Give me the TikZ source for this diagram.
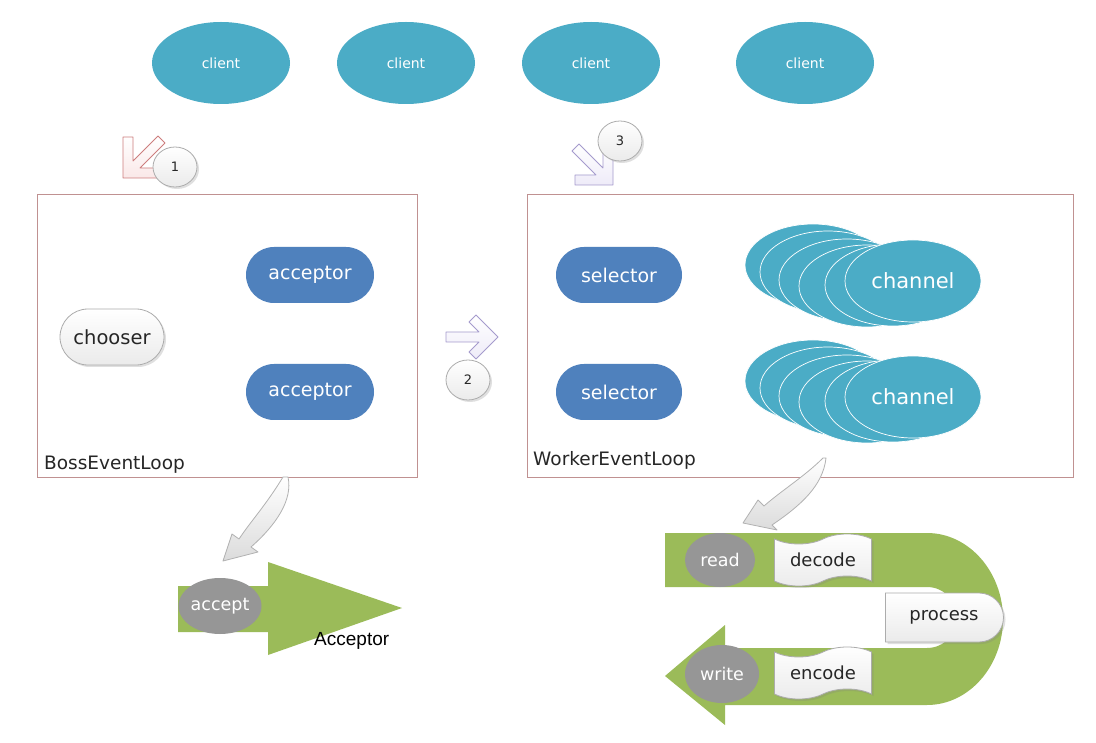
\documentclass[tikz,border=0pt]{standalone}
\usepackage{fontspec}
\setmainfont{DejaVu Sans}
\newfontfamily\helv{Liberation Sans}
\usepackage{tikz}
\usetikzlibrary{shapes.geometric}
\usetikzlibrary{shapes.misc}
\usetikzlibrary{shapes.symbols}
\usetikzlibrary{shadows}

\definecolor{aqua}{RGB}{75,172,198}
\definecolor{steel}{RGB}{79,129,189}
\definecolor{leaf}{RGB}{155,187,89}
\definecolor{loopline}{RGB}{192,145,145}
\definecolor{pinkline}{RGB}{205,125,125}
\definecolor{pinkfill}{RGB}{250,232,232}
\definecolor{lilacline}{RGB}{165,155,205}
\definecolor{lilacfill}{RGB}{238,235,248}
\definecolor{greyell}{RGB}{150,150,150}
\definecolor{darktext}{RGB}{38,38,38}

\begin{document}
\begin{tikzpicture}[x=1pt, y=-1pt,
  client/.style={ellipse, fill=aqua, minimum width=138, minimum height=82, inner sep=0,
    text=white, font=\fontsize{14}{16}\selectfont},
  pill/.style={rounded rectangle, fill=steel, minimum width=128, minimum height=56,
    inner sep=0, text=white, font=\fontsize{19}{22}\selectfont},
  chan/.style={ellipse, fill=aqua, draw=white, line width=0.7, minimum width=136,
    minimum height=82, inner sep=0, text=white, font=\fontsize{21}{24}\selectfont},
  loopbox/.style={rectangle, draw=loopline, line width=1, inner sep=0},
  looplbl/.style={inner sep=0, text=darktext, font=\fontsize{18.5}{22}\selectfont},
  soft/.style={top color=white, bottom color=gray!16, draw=gray!65, line width=0.8,
    drop shadow={opacity=.25, shadow xshift=2pt, shadow yshift=-2pt}},
  numtag/.style={soft, ellipse, minimum width=44, minimum height=40, inner sep=0,
    text=darktext, font=\fontsize{13}{15}\selectfont},
  greyio/.style={ellipse, fill=greyell, inner sep=0, text=white,
    font=\fontsize{17.5}{20}\selectfont},
  codec/.style={soft, tape, tape bend height=10pt, minimum width=97, minimum height=52,
    inner sep=0, text=darktext, font=\fontsize{18}{21}\selectfont},
  bigarrow/.style={top color=white, bottom color=gray!28, draw=gray!60, line width=0.8}
]
\fill[white] (0,0) rectangle (1096,743);
\useasboundingbox (0,0) rectangle (1096,743);

% clients
\foreach \cx [count=\ci] in {221,406,591,805}
  \node[client] (client\ci) at (\cx,63) {client};

% event loops
\node[loopbox, minimum width=380, minimum height=282] (boss) at (227,336) {};
\node[looplbl, anchor=base west] (bosslbl) at (44,470) {BossEventLoop};
\node[loopbox, minimum width=546, minimum height=282] (worker) at (800,336) {};
\node[looplbl, anchor=base west] (workerlbl) at (533,466) {WorkerEventLoop};

\node[soft, rounded rectangle, minimum width=104, minimum height=56, inner sep=0,
  text=darktext, font=\fontsize{19.5}{22}\selectfont] (chooser) at (112,337) {chooser};
\node[pill] (acc1) at (310,275) {acceptor};
\node[pill] (acc2) at (310,392) {acceptor};
\node[pill, minimum width=126] (sel1) at (619,275) {selector};
\node[pill, minimum width=126] (sel2) at (619,392) {selector};

\foreach \cx/\cy [count=\k] in {813/265, 828/272, 847/280, 867/286, 893/285}{
  \node[chan] (backa\k) at (\cx,\cy) {};
  \node[chan] (backb\k) at (\cx,{\cy+116}) {};
}
\node[chan] (chan1) at (913,281) {channel};
\node[chan] (chan2) at (913,397) {channel};

% numbered steps
\draw[pinkline, top color=white, bottom color=pinkfill, line width=0.8, line join=round]
  (123,137) -- (123,178) -- (157,178) -- (157,168) -- (140,168) -- (165,143)
  -- (158,136) -- (133,161) -- (133,137) -- cycle;
\draw[lilacline, top color=white, bottom color=lilacfill, line width=0.8, line join=round]
  (613,148) -- (613,185) -- (575,185) -- (575,175) -- (596,175) -- (572,151)
  -- (579,144) -- (603,168) -- (603,148) -- cycle;
\draw[lilacline, top color=white, bottom color=lilacfill, line width=0.8, line join=round]
  (446,332) -- (479,332) -- (469,322) -- (476,315) -- (498,337) -- (476,359)
  -- (469,352) -- (479,342) -- (446,342) -- cycle;
\node[numtag] (step1) at (175,167) {1};
\node[numtag] (step3) at (620,141) {3};
\node[numtag] (step2) at (468,380) {2};

% curved arrows
\draw[bigarrow, line join=round]
  (283,477) .. controls (266,505) and (251,521) .. (239,539) -- (232,534) -- (223,561)
  -- (258,552) -- (251,547) .. controls (276,525) and (293,500) .. (288,477) -- cycle;
\draw[bigarrow, line join=round]
  (823,458) .. controls (805,476) and (781,491) .. (764,506) -- (758,500) -- (743,523)
  -- (777,530) -- (772,525) .. controls (800,506) and (823,486) .. (826,458) -- cycle;

% acceptor
\fill[leaf] (178,586) -- (268,586) -- (268,562) -- (402,608) -- (268,655)
  -- (268,632) -- (178,632) -- cycle;
\node[greyio, minimum width=82, minimum height=56] (accept) at (220,606) {accept};
\node[inner sep=0, anchor=base west, font=\helv\fontsize{19}{22}\selectfont] (acceptor) at (314,645) {Acceptor};

% worker pipeline
\fill[leaf] (665,533) -- (927,533) .. controls (969,533) and (1003,572) .. (1003,619)
  .. controls (1003,666) and (969,705) .. (927,705) -- (725,705) -- (725,725)
  -- (665,676) -- (725,625) -- (725,648) -- (927,648)
  .. controls (944,648) and (957,634) .. (957,617.5)
  .. controls (957,601) and (944,587) .. (927,587) -- (665,587) -- cycle;
\node[greyio, minimum width=70, minimum height=54] (read) at (720,560) {read};
\node[greyio, minimum width=74, minimum height=58] (write) at (722,674) {write};
\node[codec] (decode) at (823,560) {decode};
\node[codec] (encode) at (823,673) {encode};
\node[soft, rounded rectangle, rounded rectangle left arc=none, minimum width=118,
  minimum height=49, inner sep=0, text=darktext, font=\fontsize{18}{21}\selectfont]
  (process) at (944,617.5) {process};
\end{tikzpicture}
\end{document}
